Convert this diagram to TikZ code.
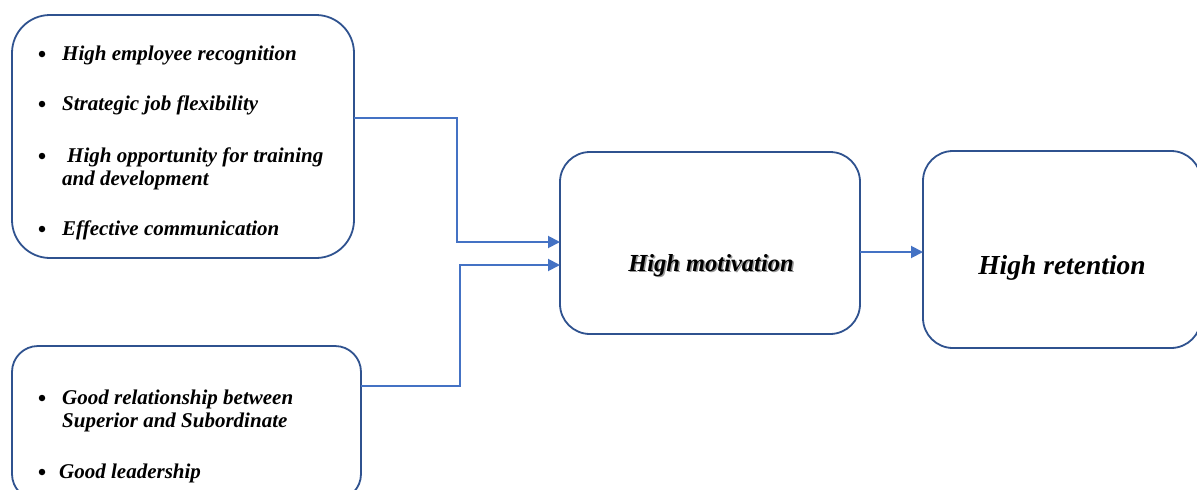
\documentclass[tikz,border=0pt]{standalone}
\usepackage{fontspec}
\setmainfont{Liberation Serif}
\usetikzlibrary{arrows.meta}
\definecolor{boxblue}{HTML}{2F528F}
\definecolor{linkblue}{HTML}{4472C4}
\tikzset{
  box/.style={draw=boxblue, line width=1.8pt, rounded corners=#1, fill=none},
  box/.default=30pt,
  txt/.style={anchor=base west, inner sep=0pt, font=\fontsize{21}{25}\selectfont\bfseries\itshape},
  bul/.style={circle, fill=black, inner sep=0pt, minimum size=6.5pt},
  link/.style={draw=linkblue, line width=1.9pt},
  arr/.style={link, -{Triangle[length=12pt,width=12pt]}}
}
\begin{document}
\begin{tikzpicture}[x=1pt,y=-1pt]
\clip (0,0) rectangle (1197,490);
\fill[white] (0,0) rectangle (1197,490);
% boxes
\draw[box=38pt] (12,15) rectangle (354,258);
\coordinate (b1r) at (354,118);
\draw[box=26pt] (12,346) rectangle (361,500);
\coordinate (b2r) at (361,386);
\draw[box=30pt] (560,152) rectangle (860,334);
\draw[box=30pt] (923,151) rectangle (1201,348);
\coordinate (b3in1) at (560,242);
\coordinate (b3in2) at (560,265);
\coordinate (b3out) at (860,252);
\coordinate (b4in) at (923,252);
% box 1 text
\node[bul] (u1) at (42,54) {};
\node[txt] (t1) at (62,60) {High employee recognition};
\node[bul] (u2) at (42,104) {};
\node[txt] (t2) at (62,110) {Strategic job flexibility};
\node[bul] (u3) at (42,156) {};
\node[txt] (t3) at (67,162) {High opportunity for training};
\node[txt] (t3b) at (62,185) {and development};
\node[bul] (u4) at (42,229) {};
\node[txt] (t4) at (62,235) {Effective communication};
% box 2 text
\node[bul] (v1) at (42,398) {};
\node[txt] (s1) at (62,404) {Good relationship between};
\node[txt] (s1b) at (62,427) {Superior and Subordinate};
\node[bul] (v2) at (42,472) {};
\node[txt] (s2) at (59,478) {Good leadership};
% centre texts
\node[anchor=base, inner sep=0pt, text=black!40, font=\fontsize{24.5}{30}\selectfont\bfseries\itshape] (mshadow) at (712.5,272.5) {High motivation};
\node[anchor=base, inner sep=0pt, font=\fontsize{24.5}{30}\selectfont\bfseries\itshape] (mot) at (711,271) {High motivation};
\node[anchor=base, inner sep=0pt, font=\fontsize{27.5}{33}\selectfont\bfseries\itshape] (ret) at (1062,274) {High retention};
% connectors
\draw[arr] (b1r) -| (457,242) -- (b3in1);
\draw[arr] (b2r) -| (460,265) -- (b3in2);
\draw[arr] (b3out) -- (b4in);
\end{tikzpicture}
\end{document}
